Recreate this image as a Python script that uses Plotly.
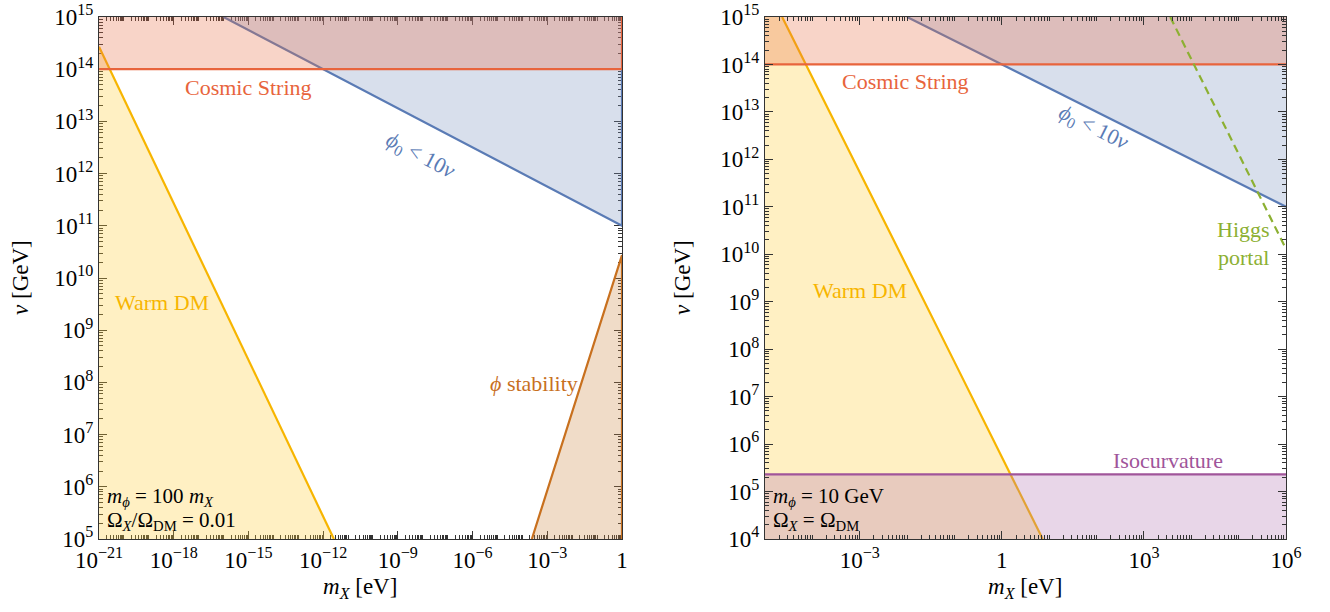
import numpy as np
import plotly.graph_objects as go

# ---------------- data ----------------
# Left panel: m_phi = 100 m_X, Omega_X/Omega_DM = 0.01
L_xlim = [1e-21, 1.0]
L_ylim = [1e5, 1e15]
L_cosmic_v = 1e14
L_phi0_m = [1e-16, 1e-12, 1e-8, 1e-4, 1.0]
L_phi0_v = [1e15, 1e14, 1e13, 1e12, 1e11]
L_warm_m = [1e-21, 1e-18, 1e-15, 2.7e-12]
L_warm_v = [2.7e14, 2.7e11, 2.7e8, 1e5]
L_stab_m = [2.4e-4, 1e-3, 1e-2, 1e-1, 1.0]
L_stab_v = [1e5, 8.7e5, 2.75e7, 8.7e8, 2.75e10]

# Right panel: m_phi = 10 GeV, Omega_X = Omega_DM
R_xlim = [1e-5, 1e6]
R_ylim = [1e4, 1e15]
R_cosmic_v = 1e14
R_phi0_m = [1e-2, 1.0, 1e2, 1e4, 1e6]
R_phi0_v = [1e15, 1e14, 1e13, 1e12, 1e11]
R_warm_m = [2.3e-5, 1e-4, 1e-3, 1e-2, 1e-1, 1.0, 7.3]
R_warm_v = [1e15, 5.4e13, 5.4e11, 5.4e9, 5.4e7, 5.4e5, 1e4]
R_iso_v = 2.3e5
R_higgs_m = [3.6e3, 1e4, 1e5, 1e6]
R_higgs_v = [1e15, 1.3e14, 1.3e12, 1.3e10]

L_xlabel_exp = [-21, -18, -15, -12, -9, -6, -3, 0]
R_xlabel_exp = [-3, 0, 3, 6]

# ---------------- styles ----------------
W, H = 1330, 612
FONT = "Liberation Serif, Times New Roman, Times, serif"
C_CS, F_CS = "#E8643C", "rgba(232,112,72,0.30)"
C_BL, F_BL = "#5A7BB5", "rgba(125,148,192,0.30)"
C_WD, F_WD = "#F7B500", "rgba(255,205,55,0.30)"
C_ST, F_ST = "#C8701E", "rgba(205,138,72,0.30)"
C_IS, F_IS = "#A0559A", "rgba(178,118,178,0.30)"
C_HG = "#8CB032"
AX = "#333333"

fig = go.Figure()


def fill(x, y, color, xa, ya):
    fig.add_trace(go.Scatter(x=x, y=y, mode="lines", fill="toself", fillcolor=color,
                             line=dict(width=0), hoverinfo="skip", showlegend=False,
                             xaxis=xa, yaxis=ya))


def line(x, y, color, xa, ya, dash="solid", width=2.2):
    fig.add_trace(go.Scatter(x=x, y=y, mode="lines", line=dict(color=color, width=width, dash=dash),
                             hoverinfo="skip", showlegend=False, xaxis=xa, yaxis=ya))


# ---- left panel ----
x0, x1 = L_xlim
y0, y1 = L_ylim
fill([x0] + L_warm_m, [y0] + L_warm_v, F_WD, "x", "y")
line(L_warm_m, L_warm_v, C_WD, "x", "y")
fill(L_stab_m + [x1], L_stab_v + [y0], F_ST, "x", "y")
line(L_stab_m + [x1], L_stab_v + [y0], C_ST, "x", "y")
fill(L_phi0_m + [x1], L_phi0_v + [y1], F_BL, "x", "y")
line(L_phi0_m + [x1], L_phi0_v + [L_cosmic_v], C_BL, "x", "y")
fill([x0, x1, x1, x0], [L_cosmic_v, L_cosmic_v, y1, y1], F_CS, "x", "y")
line([x0, x1, x1], [L_cosmic_v, L_cosmic_v, y1], C_CS, "x", "y")

# ---- right panel ----
x0, x1 = R_xlim
y0, y1 = R_ylim
fill([x0, x0] + R_warm_m, [y0, y1] + R_warm_v, F_WD, "x2", "y2")
line(R_warm_m, R_warm_v, C_WD, "x2", "y2")
fill([x0, x1, x1, x0], [y0, y0, R_iso_v, R_iso_v], F_IS, "x2", "y2")
line([x0, x1], [R_iso_v, R_iso_v], C_IS, "x2", "y2")
fill(R_phi0_m + [x1], R_phi0_v + [y1], F_BL, "x2", "y2")
line(R_phi0_m, R_phi0_v, C_BL, "x2", "y2")
fill([x0, x1, x1, x0], [R_cosmic_v, R_cosmic_v, y1, y1], F_CS, "x2", "y2")
line([x0, x1], [R_cosmic_v, R_cosmic_v], C_CS, "x2", "y2")
line(R_higgs_m, R_higgs_v, C_HG, "x2", "y2", dash="8px,5px")


# ---------------- axes ----------------
def pow_label(e):
    if e == 0:
        return "1"
    return "10<sup>" + str(e).replace("-", "\u2212") + "</sup>"


def axis(lo, hi, labeled, domain, anchor, layer):
    minor = [k * 10.0 ** e for e in range(lo, hi) for k in range(2, 10)]
    minor += [10.0 ** e for e in range(lo, hi + 1) if e not in labeled]
    minor.sort()
    return dict(type="log", range=[lo, hi], domain=domain, anchor=anchor,
                tickmode="array", tickvals=[10.0 ** e for e in labeled],
                ticktext=[pow_label(e) for e in labeled],
                ticks="inside", ticklen=8, tickwidth=1, tickcolor=AX,
                minor=dict(tickmode="array", tickvals=minor, ticks="inside",
                           ticklen=4, tickwidth=1, tickcolor=AX, showgrid=False),
                showline=True, linecolor=AX, linewidth=1.2, mirror="allticks",
                showgrid=False, zeroline=False, layer=layer, automargin=False,
                tickfont=dict(family=FONT, size=23, color="black"))


ydom = [1 - 539 / H, 1 - 17 / H]
fig.update_layout(
    xaxis=axis(-21, 0, L_xlabel_exp, [99 / W, 622 / W], "y", "below traces"),
    yaxis=axis(5, 15, list(range(5, 16)), ydom, "x", "below traces"),
    xaxis2=axis(-5, 6, R_xlabel_exp, [765 / W, 1286 / W], "y2", "above traces"),
    yaxis2=axis(4, 15, list(range(4, 16)), ydom, "x2", "above traces"),
)


# ---------------- text ----------------
def ann(text, px, py, color, size=22, angle=0, xanchor="center"):
    fig.add_annotation(text=text, x=px / W, y=1 - py / H, xref="paper", yref="paper",
                       showarrow=False, textangle=angle, xanchor=xanchor, yanchor="middle",
                       font=dict(family=FONT, size=size, color=color))


# axis titles
for cx in (360, 1025):
    ann("<i>m</i><sub><i>X</i></sub> [eV]", cx, 588, "black", size=23)
for cx in (21, 683):
    ann("<i>v</i> [GeV]", cx, 278, "black", size=23, angle=-90)

# left labels
ann("Cosmic String", 248, 88, C_CS)
ann("Warm DM", 162, 302, C_WD)
ann("<i>\u03d5</i> stability", 534, 383, C_ST)
ann("<i>\u03d5</i><sub>0</sub> &lt; 10<i>v</i>", 420, 156, C_BL, angle=27.6)
ann("<i>m</i><sub><i>\u03d5</i></sub> = 100 <i>m</i><sub><i>X</i></sub>", 105, 497, "black", size=21, xanchor="left")
ann("\u03a9<sub><i>X</i></sub>/\u03a9<sub>DM</sub> = 0.01", 105, 521, "black", size=21, xanchor="left")

# right labels
ann("Cosmic String", 905, 82, C_CS)
ann("Warm DM", 860, 290, C_WD)
ann("Isocurvature", 1168, 460, C_IS)
ann("Higgs", 1243, 229, C_HG)
ann("portal", 1243, 257, C_HG)
ann("<i>\u03d5</i><sub>0</sub> &lt; 10<i>v</i>", 1093, 128, C_BL, angle=26.4)
ann("<i>m</i><sub><i>\u03d5</i></sub> = 10 GeV", 771, 497, "black", size=21, xanchor="left")
ann("\u03a9<sub><i>X</i></sub> = \u03a9<sub>DM</sub>", 771, 521, "black", size=21, xanchor="left")

fig.update_layout(width=W, height=H, margin=dict(l=0, r=0, t=0, b=0),
                  paper_bgcolor="white", plot_bgcolor="white", showlegend=False)

fig.write_html("out.html", config={"displayModeBar": False},
               post_script="document.body.style.margin='0';")
